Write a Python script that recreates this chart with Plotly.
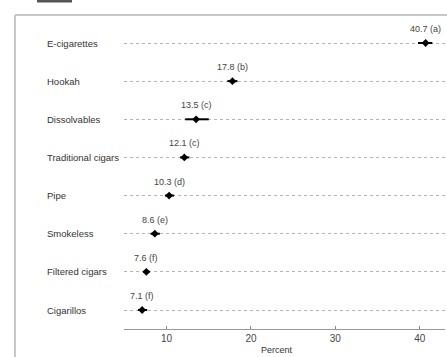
import plotly.graph_objects as go

categories = ["E-cigarettes", "Hookah", "Dissolvables", "Traditional cigars",
              "Pipe", "Smokeless", "Filtered cigars", "Cigarillos"]
percent = [40.7, 17.8, 13.5, 12.1, 10.3, 8.6, 7.6, 7.1]
ci_low = [39.8, 17.2, 12.2, 11.6, 9.8, 8.1, 7.2, 6.6]
ci_high = [41.5, 18.4, 15.0, 12.7, 10.9, 9.2, 8.0, 7.7]
groups = ["a", "b", "c", "c", "d", "e", "f", "f"]
x_ticks = [10, 20, 30, 40]

W, H = 447, 357
L, R, T, B = 124, 2, 20, 28
pw, ph = W - L - R, H - T - B

def px_x(p):
    return (p - L) / pw

def px_y(p):
    return (H - B - p) / ph

labels = [f"{v} ({g})" for v, g in zip(percent, groups)]
fig = go.Figure()
fig.add_trace(go.Scatter(
    x=percent, y=categories, mode="markers",
    marker=dict(symbol="diamond", size=6, color="black"),
    error_x=dict(type="data", symmetric=False,
                 array=[h - v for h, v in zip(ci_high, percent)],
                 arrayminus=[v - l for v, l in zip(percent, ci_low)],
                 thickness=2, width=0, color="black"),
    cliponaxis=False, showlegend=False,
))

annotations = []
for v, c, t in zip(percent, categories, labels):
    annotations.append(dict(x=v, y=c, xref="x", yref="y", text=t, showarrow=False,
                            xanchor="center", yanchor="middle", yshift=14,
                            font=dict(family="Liberation Sans", size=9, color="#444")))
for c in categories:
    annotations.append(dict(x=px_x(45), y=c, xref="paper", yref="y", text=c,
                            showarrow=False, xanchor="left", yanchor="middle",
                            font=dict(family="Liberation Sans", size=9.5, color="#333")))
annotations.append(dict(x=px_x(277), y=px_y(350), xref="paper", yref="paper",
                        text="Percent", showarrow=False, xanchor="center", yanchor="middle",
                        font=dict(family="Liberation Sans", size=9, color="#333")))

shapes = [
    dict(type="line", xref="paper", yref="paper", x0=px_x(15), x1=px_x(15),
         y0=px_y(15), y1=px_y(360), line=dict(color="#c8c8c8", width=2)),
    dict(type="line", xref="paper", yref="paper", x0=px_x(15), x1=px_x(450),
         y0=px_y(15), y1=px_y(15), line=dict(color="#c8c8c8", width=2)),
    dict(type="rect", xref="paper", yref="paper", x0=px_x(37), x1=px_x(72),
         y0=px_y(2.5), y1=px_y(-2), line=dict(width=0), fillcolor="#555"),
]

n = len(categories)
sp = (310 - 43) / (n - 1)
ytop = (T - 43) / sp
ybot = (H - B - 43) / sp

fig.update_layout(
    width=W, height=H, margin=dict(l=L, r=R, t=T, b=B),
    plot_bgcolor="white", paper_bgcolor="white",
    xaxis=dict(range=[4.95, 43.0], tickvals=x_ticks, ticks="inside", ticklen=3,
               tickcolor="#888", showline=True, linecolor="#999", linewidth=1,
               showgrid=False, zeroline=False,
               tickfont=dict(family="Liberation Sans", size=10, color="#444")),
    yaxis=dict(categoryorder="array", categoryarray=categories,
               range=[ybot, ytop], showticklabels=False, ticks="",
               showgrid=True, gridcolor="#b4b4b4", griddash="dot", gridwidth=1,
               zeroline=False, showline=False),
    annotations=annotations, shapes=shapes,
)
fig.write_html("out.html", config={"displayModeBar": False},
               post_script="document.body.style.margin='0';document.body.style.overflow='hidden';")
